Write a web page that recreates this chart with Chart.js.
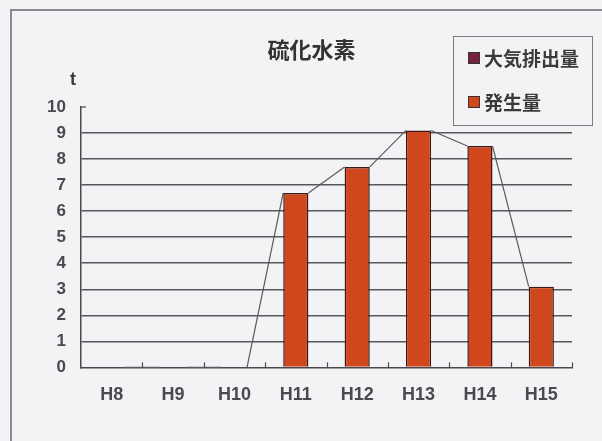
<!DOCTYPE html>
<html lang="ja">
<head>
<meta charset="utf-8">
<script src="https://cdn.jsdelivr.net/npm/chart.js@4/dist/chart.umd.min.js"></script>
<style>
  html, body { margin:0; padding:0; background:#f3f2f4; }
  #wrap { position:relative; width:602px; height:441px; overflow:hidden; background:#f3f2f4; }
  #frame { position:absolute; left:10px; top:9px; width:600px; height:440px;
           border-left:2px solid #8a8a8e; border-top:2px solid #8a8a8e; }
  #c { position:absolute; left:0; top:0; }
  #legend { position:absolute; left:453px; top:36px; width:138px; height:88px;
            border:1.5px solid #7c7c80; font-family:"Noto Sans CJK JP", sans-serif;
            font-weight:bold; font-size:19px; color:#3a3a3c; }
  #legend .item { position:absolute; left:14px; display:flex; align-items:center; line-height:24px; }
  #legend .mk { width:10px; height:10px; border:1px solid #333; margin-right:4px; }
</style>
</head>
<body>
<div id="wrap">
  <div id="frame"></div>
  <canvas id="c" width="602" height="441"></canvas>
  <div id="legend"></div>
</div>
<script>
document.addEventListener("DOMContentLoaded", () => {
  // データ
  const chartTitle = '硫化水素';
  const years = ['H8','H9','H10','H11','H12','H13','H14','H15'];
  const taikiHaishutsu = [0, 0, 0, 0, 0, 0, 0, 0];       // 大気排出量
  const hasseiRyo = [0, 0, 0, 6.7, 7.7, 9.1, 8.5, 3.1];  // 発生量
  const yTicks = [0,1,2,3,4,5,6,7,8,9,10];

  const xFont = { family:"'Liberation Sans', Arial, sans-serif", size:18, weight:'bold' };
  const yFont = { family:"'Liberation Sans', Arial, sans-serif", size:17, weight:'bold' };

  // Excelの区分線（積み上げ棒の上端を結ぶ線）
  const seriesLines = {
    id:'seriesLines',
    afterDatasetsDraw(chart){
      const ctx = chart.ctx;
      const metas = chart.getSortedVisibleDatasetMetas();
      const top = metas[metas.length-1];
      if(!top) return;
      const bars = top.data;
      ctx.save();
      ctx.strokeStyle = '#5a5a5e';
      ctx.lineWidth = 1.2;
      for(let i=0;i<bars.length-1;i++){
        const a = bars[i], b = bars[i+1];
        ctx.beginPath();
        ctx.moveTo(a.x + a.width/2, a.y);
        ctx.lineTo(b.x - b.width/2, b.y);
        ctx.stroke();
      }
      ctx.restore();
    }
  };

  // 内向き目盛り・単位「t」・タイトル
  const axisExtras = {
    id:'axisExtras',
    afterDraw(chart){
      const ctx = chart.ctx;
      const xs = chart.scales.x, ys = chart.scales.y;
      const n = xs.ticks.length;
      const step = xs.width / n;
      ctx.save();
      ctx.strokeStyle = '#4a4a4e';
      ctx.lineWidth = 1.2;
      for(let i=1;i<=n;i++){
        const x = Math.round(xs.left + i*step) + 0.5;
        ctx.beginPath();
        ctx.moveTo(x, ys.bottom);
        ctx.lineTo(x, ys.bottom - 5);
        ctx.stroke();
      }
      const yTop = ys.getPixelForValue(10);
      ctx.beginPath();
      ctx.moveTo(xs.left, yTop);
      ctx.lineTo(xs.left + 5, yTop);
      ctx.stroke();
      ctx.fillStyle = '#3a3a3c';
      ctx.font = "bold 18px 'Liberation Sans', Arial, sans-serif";
      ctx.textAlign = 'center';
      ctx.textBaseline = 'middle';
      ctx.fillText('t', xs.left - 8, yTop - 27);
      // タイトル（プロット領域の少し左寄り）
      ctx.fillStyle = '#333336';
      ctx.font = "bold 22px 'Noto Sans CJK JP', sans-serif";
      ctx.fillText(chartTitle, (xs.left + xs.right) / 2 - 15, yTop - 57);
      ctx.restore();
    }
  };

  const chart = new Chart(document.getElementById('c'), {
    type:'bar',
    data:{
      labels: years,
      datasets:[
        { label:'大気排出量', data: taikiHaishutsu, backgroundColor:'#7a2240',
          borderColor:'#3b1a16', borderWidth:1.5 },
        { label:'発生量', data: hasseiRyo, backgroundColor:'#d0461d',
          borderColor:'#3b1a16', borderWidth:1.5 }
      ]
    },
    options:{
      responsive:false,
      animation:false,
      devicePixelRatio:1,
      layout:{ padding:{ left:21, right:30, bottom:18, top:107 } },
      datasets:{ bar:{ categoryPercentage:1, barPercentage:0.41 } },
      scales:{
        x:{
          stacked:true,
          grid:{ display:false, drawTicks:false },
          border:{ display:true, color:'#4a4a4e', width:1.5 },
          ticks:{ color:'#4a4a4e', font:xFont, padding:17 }
        },
        y:{
          stacked:true,
          min:0, max:10,
          afterBuildTicks: s => { s.ticks = yTicks.map(v => ({ value:v })); },
          afterFit: s => { s.width = 60; },
          grid:{
            drawTicks:false,
            color: c => (c.tick && (c.tick.value === 0 || c.tick.value === 10)) ? 'rgba(0,0,0,0)' : '#58585c',
            lineWidth:1.5
          },
          border:{ display:true, color:'#4a4a4e', width:1.5 },
          ticks:{ color:'#4a4a4e', font:yFont, padding:15 }
        }
      },
      plugins:{
        legend:{ display:false },
        tooltip:{ enabled:false },
        title:{ display:false }
      }
    },
    plugins:[seriesLines, axisExtras]
  });

  // 凡例（HTML）
  const legendEl = document.getElementById('legend');
  const itemTops = [9, 53];
  chart.data.datasets.forEach((ds, i) => {
    const item = document.createElement('div');
    item.className = 'item';
    item.style.top = itemTops[i] + 'px';
    const mk = document.createElement('span');
    mk.className = 'mk';
    mk.style.background = ds.backgroundColor;
    const tx = document.createElement('span');
    tx.textContent = ds.label;
    item.appendChild(mk);
    item.appendChild(tx);
    legendEl.appendChild(item);
  });
});
</script>
</body>
</html>
